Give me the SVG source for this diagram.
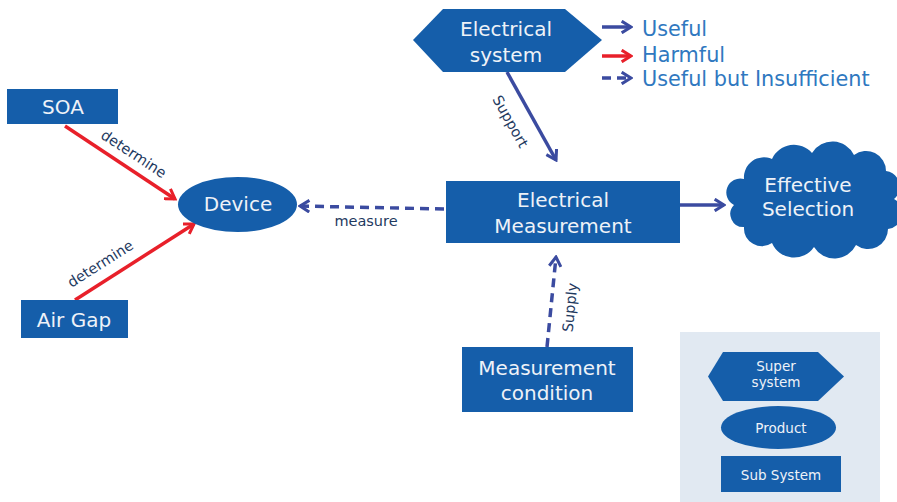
<svg xmlns="http://www.w3.org/2000/svg" width="897" height="502" viewBox="0 0 897 502">
<style>
.node{fill:#155EAA;}
.nt{font-family:"DejaVu Sans",Verdana,sans-serif;fill:#EEF2F8;text-anchor:middle;font-size:20px;}
.st{font-family:"DejaVu Sans",Verdana,sans-serif;fill:#EEF2F8;text-anchor:middle;font-size:13.5px;}
.lbl{font-family:"DejaVu Sans",Verdana,sans-serif;fill:#1F3A5F;font-size:14.5px;text-anchor:middle;}
.leg{font-family:"DejaVu Sans",Verdana,sans-serif;fill:#2F78C0;font-size:20.8px;}
.blue{stroke:#3B4BA0;stroke-width:3.5;fill:none;}
.red{stroke:#E8202A;stroke-width:3.5;fill:none;}
.dash{stroke-dasharray:9 6;}
</style>
<defs>
<marker id="ab" viewBox="0 0 12 12" refX="10" refY="6" markerWidth="14" markerHeight="14" markerUnits="userSpaceOnUse" orient="auto"><path d="M2,1 L10,6 L2,11" fill="none" stroke="#3B4BA0" stroke-width="2.6"/></marker>
<marker id="ar" viewBox="0 0 12 12" refX="10" refY="6" markerWidth="14" markerHeight="14" markerUnits="userSpaceOnUse" orient="auto"><path d="M2,1 L10,6 L2,11" fill="none" stroke="#E8202A" stroke-width="2.6"/></marker>
</defs>
<rect width="897" height="502" fill="#FFFFFF"/>
<rect x="680" y="332" width="200" height="170" fill="#E1E9F2"/>

<g id="connectors">
<line class="red" x1="65" y1="126" x2="175" y2="199" marker-end="url(#ar)"/>
<line class="red" x1="75" y1="300" x2="194" y2="224" marker-end="url(#ar)"/>
<line class="blue dash" x1="444" y1="209" x2="300" y2="206" marker-end="url(#ab)"/>
<line class="blue" x1="507" y1="72" x2="556" y2="160" marker-end="url(#ab)"/>
<line class="blue dash" x1="547" y1="347" x2="556" y2="257" marker-end="url(#ab)"/>
<line class="blue" x1="680" y1="205" x2="724" y2="205" marker-end="url(#ab)"/>
<text class="lbl" transform="translate(131,158) rotate(33.5)">determine</text>
<text class="lbl" transform="translate(103,268) rotate(-32.5)">determine</text>
<text class="lbl" x="366" y="226" font-size="15">measure</text>
<text class="lbl" transform="translate(506,124) rotate(60.5)">Support</text>
<text class="lbl" transform="translate(575,308) rotate(-84)">Supply</text>
</g>

<g id="legend-arrows">
<line class="blue" x1="602" y1="27" x2="631" y2="27" marker-end="url(#ab)"/>
<line class="red" x1="602" y1="56" x2="631" y2="56" marker-end="url(#ar)"/>
<line class="blue dash" x1="602" y1="78" x2="631" y2="78" stroke-dasharray="7 5" marker-end="url(#ab)"/>
<text class="leg" x="642" y="36">Useful</text>
<text class="leg" x="642" y="62">Harmful</text>
<text class="leg" x="642" y="86">Useful but Insufficient</text>
</g>

<g id="electrical-system">
<polygon class="node" points="413,40 443,9 565,9 602,40 565,72 443,72"/>
<text class="nt" x="506" y="36">Electrical</text>
<text class="nt" x="506" y="62">system</text>
</g>

<g id="soa">
<rect class="node" x="7" y="89" width="111" height="35"/>
<text class="nt" x="63" y="114">SOA</text>
</g>

<g id="air-gap">
<rect class="node" x="21" y="300" width="107" height="38"/>
<text class="nt" x="74" y="327">Air Gap</text>
</g>

<g id="device">
<ellipse class="node" cx="237.5" cy="204.5" rx="59.5" ry="27.5"/>
<text class="nt" x="238" y="211">Device</text>
</g>

<g id="electrical-measurement">
<rect class="node" x="446" y="181" width="234" height="62"/>
<text class="nt" x="563" y="207">Electrical</text>
<text class="nt" x="563" y="233">Measurement</text>
</g>

<g id="effective-selection">
<path class="node" d="M734,205 a14,14 0 0 1 10,-26 a20,20 0 0 1 28,-20 a24,24 0 0 1 40,-6 a24,24 0 0 1 42,2 a20,20 0 0 1 32,16 a16,16 0 0 1 8,28 a16,16 0 0 1 -6,30 a20,20 0 0 1 -32,16 a24,24 0 0 1 -42,2 a24,24 0 0 1 -42,-4 a18,18 0 0 1 -28,-16 a13,13 0 0 1 -10,-22 Z"/>
<text class="nt" x="808" y="192">Effective</text>
<text class="nt" x="808" y="216">Selection</text>
</g>

<g id="measurement-condition">
<rect class="node" x="462" y="347" width="171" height="65"/>
<text class="nt" x="547" y="375">Measurement</text>
<text class="nt" x="547" y="400">condition</text>
</g>

<g id="legend-super-system">
<polygon class="node" points="708,376.5 723,352 818,352 844,376.5 818,401 723,401"/>
<text class="st" x="776" y="371" font-size="12.5">Super</text>
<text class="st" x="776" y="387" font-size="12.5">system</text>
</g>

<g id="legend-product">
<ellipse class="node" cx="778.5" cy="427.5" rx="57.5" ry="21.5"/>
<text class="st" x="781" y="433">Product</text>
</g>

<g id="legend-sub-system">
<rect class="node" x="721" y="456" width="120" height="36"/>
<text class="st" x="781" y="480">Sub System</text>
</g>
</svg>
